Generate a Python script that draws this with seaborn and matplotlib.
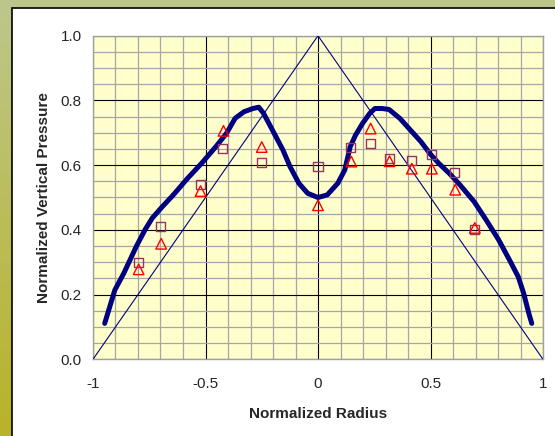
import numpy as np
import matplotlib
matplotlib.use("Agg")
import matplotlib.pyplot as plt
from matplotlib.patches import Rectangle
from matplotlib.ticker import MultipleLocator
import seaborn as sns

# smooth model curve (thick navy line)
curve_x = [-0.948, -0.903, -0.863, -0.808, -0.769, -0.737, -0.698, -0.643, -0.580,
           -0.517, -0.454, -0.407, -0.368, -0.329, -0.289, -0.263, -0.242, -0.203,
           -0.156, -0.124, -0.085, -0.046, 0.0, 0.041, 0.088, 0.119, 0.143, 0.167,
           0.198, 0.230, 0.253, 0.285, 0.316, 0.363, 0.410, 0.458, 0.497, 0.536,
           0.583, 0.631, 0.694, 0.748, 0.803, 0.851, 0.890, 0.914, 0.937, 0.950]
curve_y = [0.111, 0.214, 0.266, 0.348, 0.400, 0.436, 0.467, 0.508, 0.559,
           0.606, 0.657, 0.698, 0.745, 0.765, 0.775, 0.779, 0.760, 0.709,
           0.647, 0.595, 0.544, 0.513, 0.500, 0.508, 0.544, 0.585, 0.657, 0.693,
           0.729, 0.760, 0.775, 0.775, 0.772, 0.745, 0.709, 0.672, 0.636, 0.606,
           0.575, 0.539, 0.487, 0.430, 0.369, 0.307, 0.255, 0.204, 0.142, 0.111]

# triangular reference distribution
tri_x = [-1.0, 0.0, 1.0]
tri_y = [0.0, 1.0, 0.0]

# measured points
square_x = [-0.799, -0.698, -0.522, -0.423, -0.252, 0.0, 0.145, 0.233, 0.316, 0.415, 0.503, 0.608, 0.697]
square_y = [0.300, 0.409, 0.541, 0.650, 0.607, 0.597, 0.655, 0.667, 0.620, 0.615, 0.633, 0.576, 0.402]
triangle_x = [-0.797, -0.697, -0.522, -0.420, -0.250, 0.0, 0.148, 0.234, 0.318, 0.417, 0.506, 0.610, 0.697]
triangle_y = [0.278, 0.357, 0.520, 0.706, 0.656, 0.476, 0.611, 0.713, 0.612, 0.589, 0.589, 0.524, 0.406]

x_ticks = [-1, -0.5, 0, 0.5, 1]
x_labels = ["-1", "-0.5", "0", "0.5", "1"]
y_ticks = [0, 0.2, 0.4, 0.6, 0.8, 1.0]
y_labels = ["0.0", "0.2", "0.4", "0.6", "0.8", "1.0"]

sns.set_style("white")
plt.rcParams['font.family'] = ['Liberation Sans', 'DejaVu Sans']

W, H = 555, 436
fig = plt.figure(figsize=(W / 100, H / 100), dpi=100)

# olive gradient frame behind a white panel
bg = fig.add_axes([0, 0, 1, 1], zorder=-10)
top_col = np.array([0xBD, 0xC7, 0x8C]) / 255
bot_col = np.array([0xB8, 0xB3, 0x28]) / 255
t = np.linspace(0, 1, 256)[:, None]
grad = top_col[None, None, :] * (1 - t[:, :, None]) + bot_col[None, None, :] * t[:, :, None]
bg.imshow(grad, aspect="auto", extent=[0, 1, 0, 1])
bg.add_patch(Rectangle((12 / W, -0.1), 1.2, (H - 8) / H + 0.1,
                       facecolor="white", edgecolor="black", linewidth=1.2))
bg.set_xlim(0, 1)
bg.set_ylim(0, 1)
bg.axis("off")

left, right, top, bottom = 93, 543, 35.7, 359.3
ax = fig.add_axes([left / W, 1 - bottom / H, (right - left) / W, (bottom - top) / H])
ax.set_facecolor("#FFFFCC")

sns.lineplot(x=tri_x, y=tri_y, ax=ax, color="#000080", linewidth=0.8, sort=False, zorder=3)
sns.lineplot(x=curve_x, y=curve_y, ax=ax, color="#000080", linewidth=3.6, sort=False,
             zorder=4, solid_capstyle="round", solid_joinstyle="round")
sns.scatterplot(x=square_x, y=square_y, ax=ax, marker="s", s=42, facecolor="none",
                edgecolor="#993366", linewidth=1.0, zorder=5)
sns.scatterplot(x=triangle_x, y=triangle_y, ax=ax, marker="^", s=58, facecolor="none",
                edgecolor="#FF0000", linewidth=1.0, zorder=6)

ax.set_xlim(-1, 1)
ax.set_ylim(0, 1)
ax.set_xticks(x_ticks, x_labels)
ax.set_yticks(y_ticks, y_labels)
ax.xaxis.set_minor_locator(MultipleLocator(0.1))
ax.yaxis.set_minor_locator(MultipleLocator(0.05))
ax.grid(which="minor", color="#A6A6A6", linewidth=0.9, zorder=0)
ax.grid(which="major", color="black", linewidth=0.8, zorder=1)
ax.set_axisbelow(True)
for s in ax.spines.values():
    s.set_color("#A0A0A0")
    s.set_linewidth(1.0)
ax.tick_params(axis="x", which="major", direction="out", length=3, color="#808080",
               labelsize=11, pad=9.5)
ax.tick_params(axis="y", which="major", length=0, labelsize=11, pad=8)
ax.tick_params(which="minor", length=0)
ax.set_xlabel("Normalized Radius", fontsize=11, fontweight="bold", labelpad=12)
ax.set_ylabel("Normalized Vertical Pressure", fontsize=11, fontweight="bold", labelpad=7)

fig.savefig("out.png", dpi=100)
